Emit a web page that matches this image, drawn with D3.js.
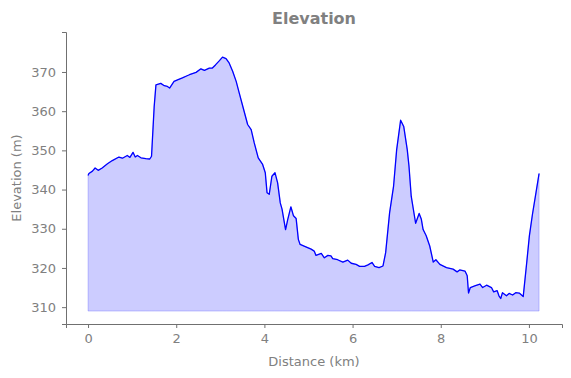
<!DOCTYPE html>
<html>
<head>
<meta charset="utf-8">
<script src="https://cdn.jsdelivr.net/npm/d3@7"></script>
<style>
  body { margin: 0; background: #fff; }
  text { font-family: "DejaVu Sans", sans-serif; }
</style>
</head>
<body>
<div id="chart"></div>
<script>
// Profile (km, m)
var distances = [0, 0.02, 0.1, 0.16, 0.23, 0.32, 0.44, 0.55, 0.7, 0.78, 0.89, 0.95, 1.02, 1.07, 1.12, 1.2, 1.31, 1.4, 1.44,
  1.5, 1.54, 1.65, 1.73, 1.8, 1.85, 1.95, 2.03, 2.14, 2.26, 2.3, 2.45, 2.56, 2.64, 2.75, 2.82, 2.89, 2.98, 3.05, 3.13,
  3.2, 3.28, 3.36, 3.43, 3.52, 3.62, 3.7, 3.77, 3.86, 3.96, 4.02, 4.06, 4.11, 4.17, 4.24, 4.3, 4.36, 4.4, 4.48, 4.53,
  4.6, 4.66, 4.72, 4.77, 4.81, 4.94, 5.06, 5.13, 5.17, 5.29, 5.36, 5.44, 5.51, 5.55, 5.66, 5.78, 5.89, 5.97, 6.08,
  6.16, 6.27, 6.35, 6.44, 6.5, 6.6, 6.69, 6.75, 6.84, 6.93, 7.0, 7.09, 7.16, 7.24, 7.28, 7.33, 7.43, 7.51, 7.56, 7.6,
  7.67, 7.75, 7.83, 7.89, 7.98, 8.13, 8.28, 8.37, 8.43, 8.55, 8.6, 8.63, 8.67, 8.77, 8.89, 8.95, 9.04, 9.15, 9.2,
  9.28, 9.32, 9.36, 9.4, 9.49, 9.55, 9.63, 9.7, 9.78, 9.87, 9.95, 10.01, 10.08, 10.16, 10.23];
var elevations = [343.6, 344.1, 344.7, 345.5, 344.9, 345.5, 346.6, 347.4, 348.3, 348.0, 348.7, 348.2, 349.5, 348.3, 348.7, 348.1, 347.9, 347.8, 348.5,
  361.2, 366.7, 367.1, 366.5, 366.3, 365.9, 367.6, 368.0, 368.5, 369.1, 369.3, 369.9, 370.8, 370.4, 371.0, 371.0, 371.8, 372.9, 373.8, 373.4,
  372.3, 370.2, 367.6, 364.6, 360.8, 356.6, 355.3, 351.9, 348.1, 346.4, 344.3, 339.2, 338.8, 343.4, 344.3, 341.7, 336.6, 335.0, 329.8, 332.4,
  335.6, 333.3, 332.6, 327.3, 326.0, 325.4, 324.8, 324.3, 323.2, 323.7, 322.6, 323.2, 323.1, 322.4, 322.1, 321.5, 322.0, 321.2, 320.9,
  320.4, 320.4, 320.8, 321.4, 320.4, 320.1, 320.5, 323.9, 334.1, 340.9, 350.2, 357.7, 356.1, 350.2, 345.9, 338.3, 331.4, 333.9, 332.4, 329.8,
  328.2, 325.6, 321.5, 322.1, 320.9, 320.1, 319.7, 319.0, 319.5, 319.2, 318.0, 313.6, 315.0, 315.4, 315.9, 315.0, 315.6, 315.0, 313.9,
  314.2, 312.9, 312.2, 313.7, 312.9, 313.5, 313.1, 313.7, 313.6, 312.7, 321.4, 328.2, 333.7, 339.2, 344.1];
var baseElevation = 309;
var xTicks = [0, 2, 4, 6, 8, 10];
var yTicks = [310, 320, 330, 340, 350, 360, 370];

var width = 571, height = 378;
var margin = {top: 32, right: 9, bottom: 54, left: 66};
var grey = '#808080';
var spineGrey = '#707070';

var svg = d3.select('#chart').append('svg')
  .attr('width', width)
  .attr('height', height);

var x = d3.scaleLinear().domain([-0.5, 10.75]).range([margin.left, width - margin.right]);
var y = d3.scaleLinear().domain([305.7, 380.2]).range([height - margin.bottom, margin.top]);

var points = distances.map(function(d, i) { return [d, elevations[i]]; });

// Filled area under the profile
var area = d3.area()
  .x(function(d) { return x(d[0]); })
  .y0(y(baseElevation))
  .y1(function(d) { return y(d[1]); });
svg.append('path')
  .datum(points)
  .attr('d', area)
  .attr('fill', 'rgba(0,0,255,0.2)')
  .attr('stroke', 'rgba(0,0,255,0.2)')
  .attr('stroke-width', 1);

// Profile line
var line = d3.line()
  .x(function(d) { return x(d[0]); })
  .y(function(d) { return y(d[1]); });
svg.append('path')
  .datum(points)
  .attr('d', line)
  .attr('fill', 'none')
  .attr('stroke', '#0000ff')
  .attr('stroke-width', 1.3)
  .attr('stroke-linejoin', 'round');

// Axes
var xAxis = svg.append('g')
  .attr('transform', 'translate(0,' + (height - margin.bottom) + ')')
  .call(d3.axisBottom(x).tickValues(xTicks).tickFormat(d3.format('d')).tickSizeOuter(0).tickSize(4).tickPadding(6));
var yAxis = svg.append('g')
  .attr('transform', 'translate(' + margin.left + ',0)')
  .call(d3.axisLeft(y).tickValues(yTicks).tickFormat(d3.format('d')).tickSizeOuter(0).tickSize(4).tickPadding(6));

[xAxis, yAxis].forEach(function(g) {
  g.select('.domain').attr('stroke', spineGrey).attr('stroke-width', 1);
  g.selectAll('.tick line').attr('stroke', spineGrey);
  g.selectAll('.tick text')
    .attr('fill', grey)
    .style('font-size', '13px')
    .style('font-family', '"DejaVu Sans", sans-serif');
});

// Title and labels
svg.append('text')
  .attr('x', (margin.left + width - margin.right) / 2)
  .attr('y', 24)
  .attr('text-anchor', 'middle')
  .attr('fill', grey)
  .style('font-size', '16px')
  .style('font-weight', 'bold')
  .text('Elevation');

svg.append('text')
  .attr('x', (margin.left + width - margin.right) / 2)
  .attr('y', 366)
  .attr('text-anchor', 'middle')
  .attr('fill', grey)
  .style('font-size', '13px')
  .text('Distance (km)');

svg.append('text')
  .attr('transform', 'translate(21,' + ((margin.top + height - margin.bottom) / 2) + ') rotate(-90)')
  .attr('text-anchor', 'middle')
  .attr('fill', grey)
  .style('font-size', '13px')
  .text('Elevation (m)');
</script>
</body>
</html>
